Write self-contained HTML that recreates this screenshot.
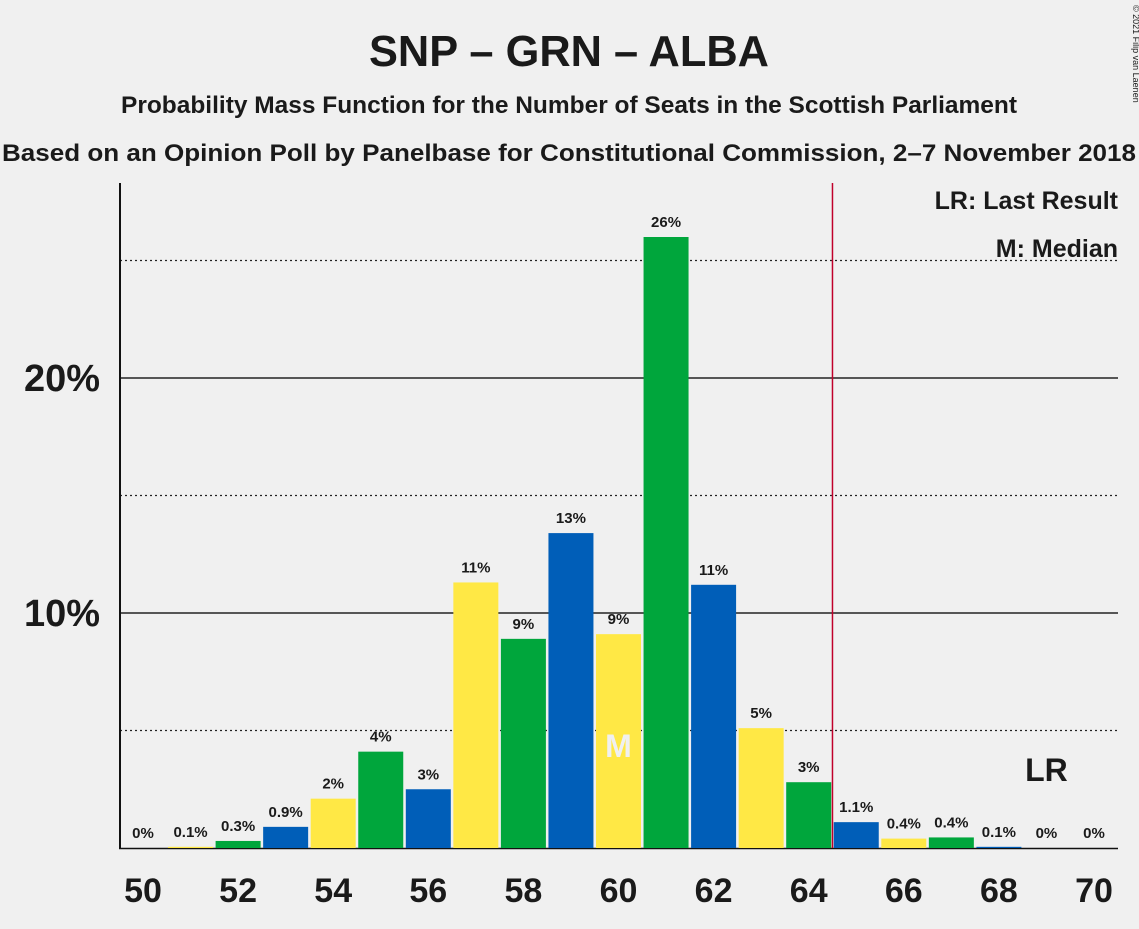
<!DOCTYPE html>
<html><head><meta charset="utf-8"><style>
body{margin:0;background:#f0f0f0;font-family:"Liberation Sans",sans-serif;}
svg text{font-family:"Liberation Sans",sans-serif;fill:#1a1a1a;}
</style></head><body>
<svg id="c" width="1139" height="924" xmlns="http://www.w3.org/2000/svg">
<rect width="1139" height="924" fill="#f0f0f0"/>
<text x="569" y="66" text-anchor="middle" font-size="44" font-weight="bold" textLength="400" lengthAdjust="spacingAndGlyphs">SNP – GRN – ALBA</text>
<text x="569" y="113" text-anchor="middle" font-size="24" font-weight="bold" textLength="896" lengthAdjust="spacingAndGlyphs">Probability Mass Function for the Number of Seats in the Scottish Parliament</text>
<text x="569" y="161" text-anchor="middle" font-size="24" font-weight="bold" textLength="1134" lengthAdjust="spacingAndGlyphs">Based on an Opinion Poll by Panelbase for Constitutional Commission, 2–7 November 2018</text>
<text x="1133" y="5" font-size="9" transform="rotate(90 1133 5)">© 2021 Filip van Laenen</text>
<g id="grid"></g><g id="bars"></g>
<text x="1118" y="209" text-anchor="end" font-size="25" font-weight="bold">LR: Last Result</text>
<text x="1118" y="257" text-anchor="end" font-size="25" font-weight="bold">M: Median</text>
</svg>
<script>
const seats=[50,51,52,53,54,55,56,57,58,59,60,61,62,63,64,65,66,67,68,69,70];
const probs=[0,0.05,0.3,0.9,2.1,4.1,2.5,11.3,8.9,13.4,9.1,26,11.2,5.1,2.8,1.1,0.4,0.45,0.05,0,0];
const labels=["0%","0.1%","0.3%","0.9%","2%","4%","3%","11%","9%","13%","9%","26%","11%","5%","3%","1.1%","0.4%","0.4%","0.1%","0%","0%"];
const yTicks=[10,20];
const dotted=[5,15,25];
const lastResult=69, median=60;
const NS="http://www.w3.org/2000/svg";
const x=s=>143+(s-50)*47.55;
const y=v=>848-v*23.5;
const g=document.getElementById('grid'),b=document.getElementById('bars');
function el(t,a,p){const e=document.createElementNS(NS,t);for(const k in a)e.setAttribute(k,a[k]);p.appendChild(e);return e;}
dotted.forEach(v=>{const l=el('line',{x1:120,x2:1118,y1:y(v),y2:y(v),stroke:'#222','stroke-dasharray':'2,3','stroke-width':1.3},g);

});
yTicks.forEach(v=>{const l=el('line',{x1:120,x2:1118,y1:y(v),y2:y(v),stroke:'#222','stroke-width':1.5},g);


const t=el('text',{x:100,y:y(v)+13,'text-anchor':'end','font-size':38,'font-weight':'bold'},g);t.textContent=v+'%';

});
const ax=el('line',{x1:120,x2:120,y1:183,y2:849,stroke:'#111','stroke-width':2},g);


const bx=el('line',{x1:119,x2:1118,y1:848.5,y2:848.5,stroke:'#111','stroke-width':1.5},g);


const cols={0:'#FFE845',1:'#00A63C',2:'#005EB8'};
seats.forEach((s,i)=>{
 const v=probs[i];
 if(v>0){const r=el('rect',{x:x(s)-22.5,y:y(v),width:45,height:848-y(v),fill:cols[s%3]},b);
 
 }
 const t=el('text',{x:x(s),y:y(v)-10,'text-anchor':'middle','font-size':15,'font-weight':'bold'},b);t.textContent=labels[i];
 
 
 if(s%2===0){const tl=el('text',{x:x(s),y:902,'text-anchor':'middle','font-size':34,'font-weight':'bold'},b);tl.textContent=s;
 
 }
});
const m=el('text',{x:x(median),y:757,'text-anchor':'middle','font-size':32,'font-weight':'bold',style:'fill:#f0f0f0'},b);m.textContent='M';


const rl=el('line',{x1:x(64.5),x2:x(64.5),y1:183,y2:848,stroke:'#c0002a','stroke-width':1.5},b);


const lr=el('text',{x:x(lastResult),y:781,'text-anchor':'middle','font-size':32,'font-weight':'bold'},b);lr.textContent='LR';


</script>
</body></html>
